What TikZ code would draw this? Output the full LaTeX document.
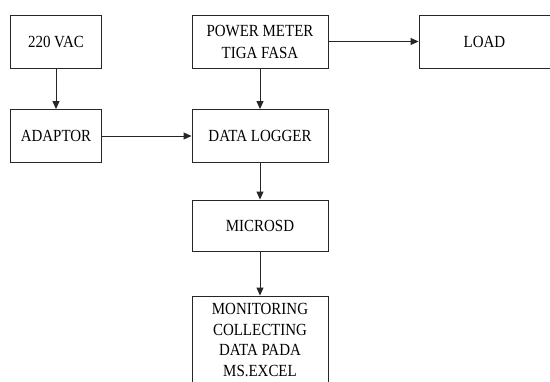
\documentclass[tikz,border=0pt]{standalone}
\usepackage{fontspec}
\setmainfont[FakeStretch=0.88]{Liberation Serif}
\usetikzlibrary{arrows.meta}
\begin{document}
\begin{tikzpicture}[x=1pt,y=-1pt,
  box/.style={draw=black!85, line width=0.9pt, minimum width=136pt, minimum height=53pt, inner sep=0pt, align=center, font=\fontsize{17}{22}\selectfont},
  sbox/.style={box, minimum width=91.5pt},
  conn/.style={draw=black!85, line width=0.9pt, -{Triangle[length=8pt,width=7pt]}}]
\useasboundingbox (0,0) rectangle (550,381);
\fill[white] (0,0) rectangle (550,381);
\clip (0,0) rectangle (550,381);
\node[sbox] (vac) at (56,41.5) {220 VAC};
\node[sbox] (adp) at (56,136) {ADAPTOR};
\node[box] (pm) at (260,41.5) {POWER METER\\TIGA FASA};
\node[box] (dl) at (260,136) {DATA LOGGER};
\node[box, minimum width=131pt] (load) at (484.5,41.5) {LOAD};
\node[box, minimum height=51pt] (sd) at (260,225.5) {MICROSD};
\node[box, minimum height=88pt, font=\fontsize{17}{20.5}\selectfont] (mon) at (260,340) {MONITORING\\COLLECTING\\DATA PADA\\MS.EXCEL};
\draw[conn] (vac) -- (adp);
\draw[conn] (adp) -- (dl);
\draw[conn] (pm) -- (dl);
\draw[conn] (pm) -- (load);
\draw[conn] (dl) -- (sd);
\draw[conn] (sd) -- (mon);
\end{tikzpicture}
\end{document}
